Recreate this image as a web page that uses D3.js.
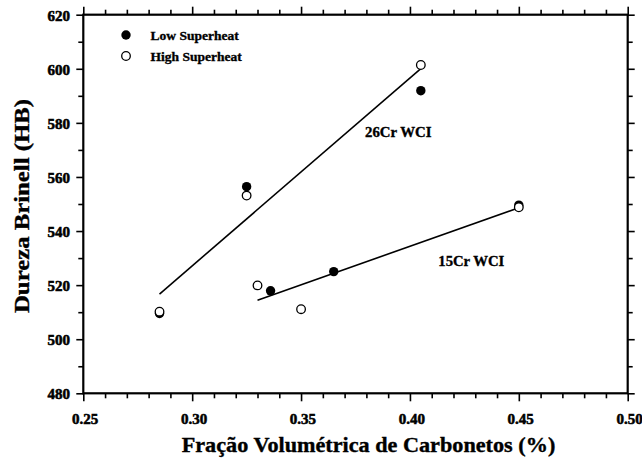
<!DOCTYPE html>
<html>
<head>
<meta charset="utf-8">
<script src="https://cdn.jsdelivr.net/npm/d3@7"></script>
<style>
  html, body { margin: 0; padding: 0; background: #fff; }
  svg { display: block; }
  text { font-family: "Liberation Serif", "Times New Roman", serif; font-weight: bold; fill: #000; stroke: #000; stroke-width: 0.35px; }
  .tick text { stroke-width: 0.55px; }
</style>
</head>
<body>
<svg id="chart" width="642" height="461"></svg>
<script>
// ---- data ----
const xTicksMajor = [0.25, 0.30, 0.35, 0.40, 0.45, 0.50];
const yTicksMajor = [480, 500, 520, 540, 560, 580, 600, 620];

const x26Low  = [0.285, 0.325, 0.405];
const y26Low  = [509.5, 556.4, 591.9];
const x26High = [0.285, 0.325, 0.405];
const y26High = [510.2, 553.1, 601.4];

const x15Low  = [0.336, 0.365, 0.450];
const y15Low  = [517.9, 525.0, 549.6];
const x15High = [0.330, 0.350, 0.450];
const y15High = [519.9, 511.1, 548.8];

const legendLabels = ["Low Superheat", "High Superheat"];
const groupLabels = ["26Cr WCI", "15Cr WCI"];
const xTitle = "Fração Volumétrica de Carbonetos (%)";
const yTitle = "Dureza Brinell (HB)";

// ---- layout ----
const svg = d3.select("#chart");
const L = 83.3, R = 627.7, T = 14.7, B = 393.3;
const x = d3.scaleLinear().domain([0.25, 0.50]).range([L, R]);
const y = d3.scaleLinear().domain([480, 620]).range([B, T]);

const xMinor = d3.range(26).map(i => 0.25 + i * 0.01).filter(v => !xTicksMajor.some(m => Math.abs(m - v) < 1e-9));
const yMinor = d3.range(15).map(i => 480 + i * 10).filter(v => v % 20 !== 0);

function styleAxis(g) {
  g.select(".domain").remove();
  g.selectAll(".tick line").attr("stroke", "#000").attr("stroke-width", 1.6);
}

// minor ticks
svg.append("g").attr("transform", `translate(0,${B})`)
  .call(d3.axisBottom(x).tickValues(xMinor).tickSize(5).tickFormat(""))
  .call(styleAxis);
svg.append("g").attr("transform", `translate(0,${T})`)
  .call(d3.axisTop(x).tickValues(xMinor).tickSize(5).tickFormat(""))
  .call(styleAxis);
svg.append("g").attr("transform", `translate(${L},0)`)
  .call(d3.axisLeft(y).tickValues(yMinor).tickSize(5).tickFormat(""))
  .call(styleAxis);
svg.append("g").attr("transform", `translate(${R},0)`)
  .call(d3.axisRight(y).tickValues(yMinor).tickSize(5).tickFormat(""))
  .call(styleAxis);

// major ticks
const gx = svg.append("g").attr("transform", `translate(0,${B})`)
  .call(d3.axisBottom(x).tickValues(xTicksMajor).tickSize(8).tickFormat(d3.format(".2f")))
  .call(styleAxis);
gx.selectAll(".tick text").attr("y", 31).attr("dy", 0).attr("dx", 1.4)
  .style("font-size", "15px");

svg.append("g").attr("transform", `translate(0,${T})`)
  .call(d3.axisTop(x).tickValues(xTicksMajor).tickSize(8).tickFormat(""))
  .call(styleAxis);

const gy = svg.append("g").attr("transform", `translate(${L},0)`)
  .call(d3.axisLeft(y).tickValues(yTicksMajor).tickSize(7).tickFormat(d3.format("d")))
  .call(styleAxis);
gy.selectAll(".tick text").attr("x", -13.3).attr("dy", "0.36em")
  .style("font-size", "15px");

svg.append("g").attr("transform", `translate(${R},0)`)
  .call(d3.axisRight(y).tickValues(yTicksMajor).tickSize(7).tickFormat(""))
  .call(styleAxis);

// frame
svg.append("rect").attr("x", L).attr("y", T).attr("width", R - L).attr("height", B - T)
  .attr("fill", "none").attr("stroke", "#000").attr("stroke-width", 2.2);

// regression lines
function fit(xs, ys) {
  const mx = d3.mean(xs), my = d3.mean(ys);
  let sxy = 0, sxx = 0;
  xs.forEach((v, i) => { sxy += (v - mx) * (ys[i] - my); sxx += (v - mx) ** 2; });
  const b = sxy / sxx, a = my - b * mx;
  const x0 = d3.min(xs), x1 = d3.max(xs);
  return [[x0, a + b * x0], [x1, a + b * x1]];
}
const line = d3.line().x(d => x(d[0])).y(d => y(d[1]));
const fit26 = fit(x26Low.concat(x26High), y26Low.concat(y26High));
const fit15 = fit(x15Low.concat(x15High), y15Low.concat(y15High));
[fit26, fit15].forEach(f => {
  svg.append("path").attr("d", line(f)).attr("fill", "none")
    .attr("stroke", "#000").attr("stroke-width", 1.6);
});

// points
const r = 4.7;
function filled(xs, ys) {
  svg.append("g").selectAll("circle").data(xs).join("circle")
    .attr("cx", d => x(d)).attr("cy", (d, i) => y(ys[i])).attr("r", r).attr("fill", "#000");
}
function open(xs, ys) {
  svg.append("g").selectAll("circle").data(xs).join("circle")
    .attr("cx", d => x(d)).attr("cy", (d, i) => y(ys[i])).attr("r", r - 0.4)
    .attr("fill", "#fff").attr("stroke", "#000").attr("stroke-width", 1.3);
}
filled(x26Low, y26Low);
filled(x15Low, y15Low);
open(x26High, y26High);
open(x15High, y15High);

// legend
svg.append("circle").attr("cx", 126).attr("cy", 35).attr("r", r).attr("fill", "#000");
svg.append("circle").attr("cx", 126).attr("cy", 56).attr("r", r - 0.4)
  .attr("fill", "#fff").attr("stroke", "#000").attr("stroke-width", 1.3);
svg.append("text").attr("x", 150.5).attr("y", 39.5).style("font-size", "13.5px").text(legendLabels[0]);
svg.append("text").attr("x", 150.5).attr("y", 60.5).style("font-size", "13.5px").text(legendLabels[1]);

// group labels
svg.append("text").attr("x", 365).attr("y", 137).style("font-size", "14.5px")
  .attr("textLength", 66.5).attr("lengthAdjust", "spacingAndGlyphs").text(groupLabels[0]);
svg.append("text").attr("x", 438.3).attr("y", 265.5).style("font-size", "14.5px")
  .attr("textLength", 66).attr("lengthAdjust", "spacingAndGlyphs").text(groupLabels[1]);

// axis titles
svg.append("text").attr("x", 181.7).attr("y", 451.7).style("font-size", "20px")
  .attr("textLength", 373.6).attr("lengthAdjust", "spacingAndGlyphs").text(xTitle);
svg.append("text")
  .attr("transform", "translate(29,206) rotate(-90)")
  .attr("x", -107).style("font-size", "20px")
  .attr("textLength", 214).attr("lengthAdjust", "spacingAndGlyphs")
  .text(yTitle);
</script>
</body>
</html>
